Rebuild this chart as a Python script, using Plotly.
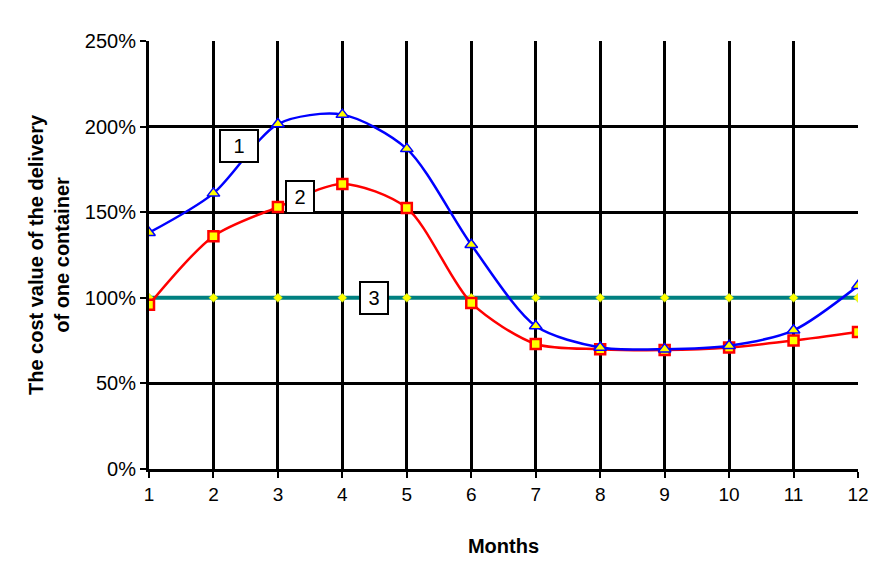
import plotly.graph_objects as go

months = [1, 2, 3, 4, 5, 6, 7, 8, 9, 10, 11, 12]
series1 = [1.38, 1.61, 2.015, 2.07, 1.87, 1.31, 0.835, 0.71, 0.70, 0.72, 0.81, 1.07]
series2 = [0.96, 1.36, 1.53, 1.665, 1.525, 0.97, 0.73, 0.70, 0.695, 0.71, 0.75, 0.80]
series3 = [1.0] * 12
y_ticks = [0, 0.5, 1.0, 1.5, 2.0, 2.5]
y_tick_labels = ["0%", "50%", "100%", "150%", "200%", "250%"]
labels = [("1", 2.40, 1.887, 28), ("2", 3.34, 1.589, 18), ("3", 4.49, 1.0, 18)]

FONT = "Liberation Sans, Arial, sans-serif"

fig = go.Figure()
fig.add_trace(go.Scatter(
    x=months, y=series3, mode="lines+markers",
    line=dict(color="#008080", width=4),
    marker=dict(symbol="diamond", size=7, color="#ffff00", line=dict(color="#9acd32", width=0.5)),
    showlegend=False))
fig.add_trace(go.Scatter(
    x=months, y=series2, mode="lines+markers",
    line=dict(color="#ff0000", width=2.5, shape="spline", smoothing=0.8),
    marker=dict(symbol="square", size=10, color="#ffff00", line=dict(color="#ff0000", width=2.5)),
    showlegend=False))
fig.add_trace(go.Scatter(
    x=months, y=series1, mode="lines+markers",
    line=dict(color="#0000ff", width=2.5, shape="spline", smoothing=0.8),
    marker=dict(symbol="triangle-up", size=11, color="#ffff00", line=dict(color="#0000ff", width=1.5)),
    showlegend=False))

for txt, xx, yy, w in labels:
    fig.add_annotation(x=xx, y=yy, text=txt, showarrow=False, width=w, height=22,
                       font=dict(family=FONT, size=20, color="black"),
                       bgcolor="white", bordercolor="black", borderwidth=2,
                       borderpad=4)

fig.update_layout(
    width=892, height=569,
    margin=dict(l=149, r=34, t=41, b=100),
    paper_bgcolor="white", plot_bgcolor="white",
    font=dict(family=FONT, color="black"),
    xaxis=dict(range=[1, 12], tickvals=months, showgrid=True, gridcolor="black", gridwidth=3,
               showline=True, linecolor="black", linewidth=3, ticks="outside", ticklen=6,
               tickwidth=2, tickcolor="black", zeroline=False,
               tickfont=dict(family=FONT, size=19, color="black"),
               title=dict(text="<b>Months</b>", font=dict(family=FONT, size=20, color="black"), standoff=36)),
    yaxis=dict(range=[0, 2.5], tickvals=y_ticks, ticktext=y_tick_labels, showgrid=True,
               gridcolor="black", gridwidth=3, showline=True, linecolor="black", linewidth=3,
               ticks="outside", ticklen=6, tickwidth=2, tickcolor="black", zeroline=False,
               tickfont=dict(family=FONT, size=20, color="black"),
               title=dict(text="<b>The cost value of the delivery<br>of one container</b>",
                          font=dict(family=FONT, size=20, color="black"), standoff=10)),
)
fig.write_html("out.html")
